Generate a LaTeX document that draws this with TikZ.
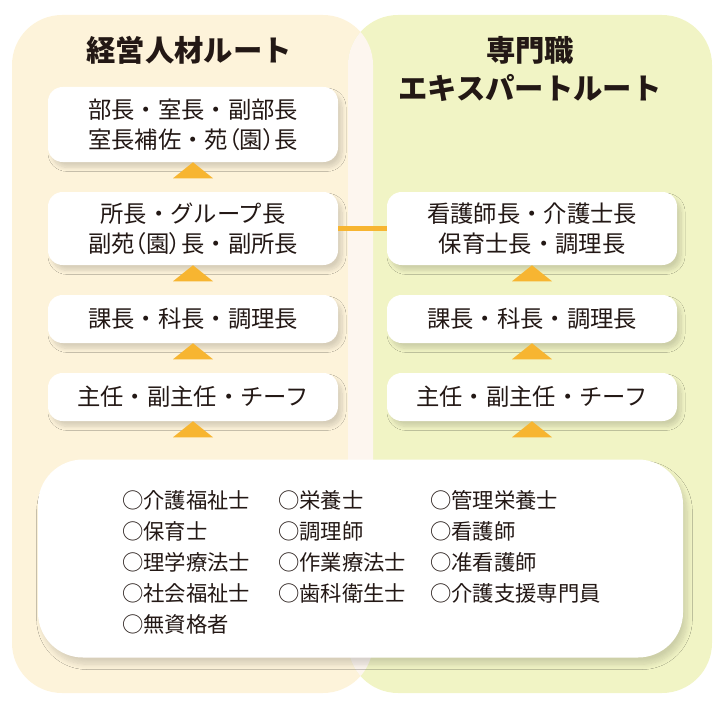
\documentclass[tikz,border=0pt]{standalone}
\usepackage{fontspec}
\setmainfont{Noto Sans CJK JP}
\newfontfamily\paltfont{Noto Sans CJK JP}[RawFeature=+palt]
\newcommand\kakko[1]{{\paltfont （}#1{\paltfont ）}}
\usepackage{tikz}
\usetikzlibrary{shadows.blur}
\definecolor{creamBg}{HTML}{FDF3DA}
\definecolor{greenBg}{HTML}{F1F4C5}
\definecolor{mixBg}{HTML}{FDF6EF}
\definecolor{routeOrange}{HTML}{F7B531}
\definecolor{inkText}{HTML}{231815}

\begin{document}
\begin{tikzpicture}[x=0.75pt,y=-0.75pt,
  column/.style={rounded corners=37.5pt},
  title/.style={text=inkText, align=center, font=\fontsize{22}{28.5}\selectfont\bfseries},
  postbox/.style={fill=white, rounded corners=11pt, inner sep=0pt,
    minimum width=217.5pt, minimum height=36pt, align=center, text=inkText,
    font=\fontsize{17.5}{22.5}\selectfont,
    blur shadow={shadow xshift=3pt, shadow yshift=-4pt, shadow blur radius=3pt,
      shadow blur steps=8, shadow opacity=15}},
  qualbox/.style={fill=white, rounded corners=33.75pt, inner sep=0pt,
    minimum width=483.75pt, minimum height=148.5pt,
    blur shadow={shadow xshift=3pt, shadow yshift=-5pt, shadow blur radius=4pt,
      shadow blur steps=8, shadow opacity=15}},
  qual/.style={anchor=west, inner sep=0pt, text=inkText, font=\fontsize{16}{20}\selectfont},
  uptri/.style={fill=routeOrange},
  link/.style={draw=routeOrange, line width=3.75pt}]
  \useasboundingbox (0,0) rectangle (721,710);

  \fill[creamBg, column] (12,15) rectangle (373,693);
  \fill[greenBg, column] (348,15) rectangle (712,693);
  \begin{scope}
    \clip[column] (12,15) rectangle (373,693);
    \fill[mixBg, column] (348,15) rectangle (712,693);
  \end{scope}

  \node[title] (mgmt) at (189,50) {経営人材ルート};
  \node[title] (expert) at (530,69) {専門職\\エキスパートルート};

  \node[postbox, minimum height=56.25pt] (l1) at (193,124.5) {部長・室長・副部長\\室長補佐・苑\kakko{園}長};
  \node[postbox, minimum height=54.75pt] (l2) at (193,228.5) {所長・グループ長\\副苑\kakko{園}長・副所長};
  \node[postbox] (l3) at (193,319) {課長・科長・調理長};
  \node[postbox] (l4) at (193,397) {主任・副主任・チーフ};

  \node[postbox, minimum height=54.75pt] (r2) at (532,228.5) {看護師長・介護士長\\保育士長・調理長};
  \node[postbox] (r3) at (532,319) {課長・科長・調理長};
  \node[postbox] (r4) at (532,397) {主任・副主任・チーフ};

  \draw[link] (l2.east) -- (r2.west);

  \foreach \n in {l1,l2,l3,l4,r2,r3,r4}
    \fill[uptri] (\n.south) -- ++(-20,16) -- ++(40,0) -- cycle;

  \node[qualbox] (quals) at (360.5,558.5) {};

  \foreach \txt [count=\i] in {○介護福祉士,○保育士,○理学療法士,○社会福祉士,○無資格者}
    \node[qual] (qa\i) at (122,469+31*\i) {\txt};
  \foreach \txt [count=\i] in {○栄養士,○調理師,○作業療法士,○歯科衛生士}
    \node[qual] (qb\i) at (278,469+31*\i) {\txt};
  \foreach \txt [count=\i] in {○管理栄養士,○看護師,○准看護師,○介護支援専門員}
    \node[qual] (qc\i) at (430,469+31*\i) {\txt};
\end{tikzpicture}
\end{document}
